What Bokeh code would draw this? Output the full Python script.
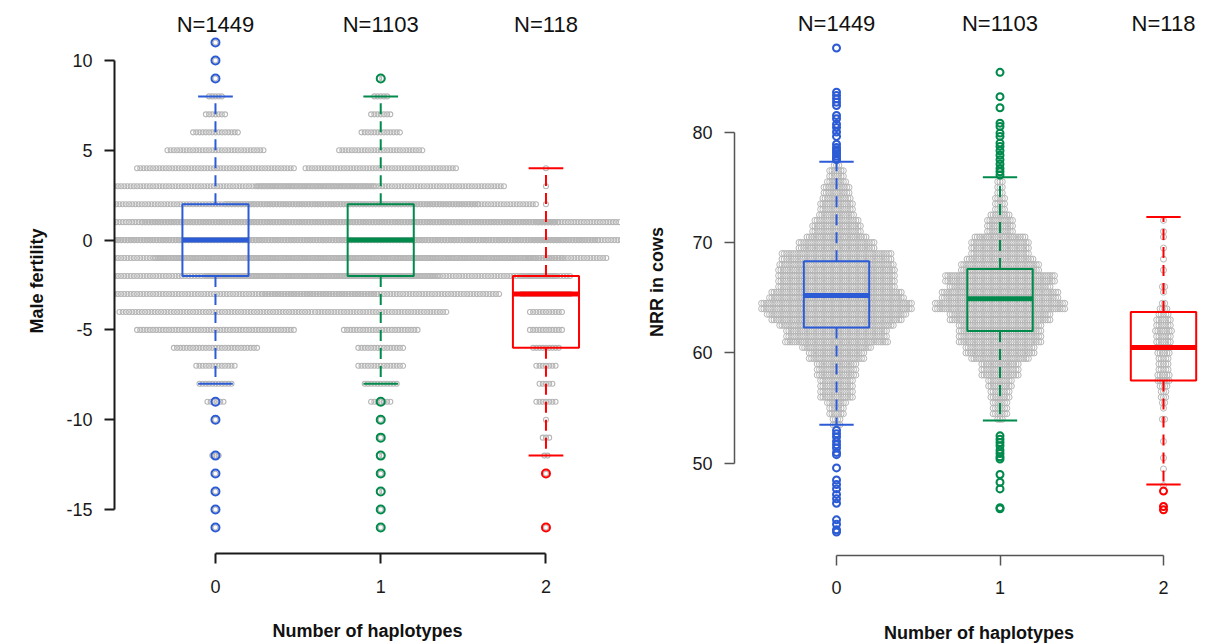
from bokeh.plotting import figure
from bokeh.layouts import row
from bokeh.models import Range1d, FixedTicker, CustomJSTickFormatter
from bokeh.embed import file_html
from bokeh.resources import INLINE
from bokeh.core.properties import value

FONT = "Liberation Sans"

# ---------------- data ----------------
haplotypes = [0, 1, 2]
n_labels = ["N=1449", "N=1103", "N=118"]
box_colors = ["#2c5bd6", "#008a4b", "#ff0000"]

# Left panel: male fertility score (integer) -> number of bulls per score
mf_levels = [11, 10, 9, 8, 7, 6, 5, 4, 3, 2, 1, 0, -1, -2, -3, -4, -5, -6, -7, -8,
             -9, -10, -11, -12, -13, -14, -15, -16]
mf_count_h0 = [1, 1, 1, 5, 7, 15, 31, 50, 100, 165, 215, 240, 200, 140, 102, 61, 50,
               27, 13, 11, 6, 1, 0, 3, 1, 1, 1, 1]
mf_count_h1 = [0, 0, 2, 5, 7, 13, 27, 48, 78, 98, 150, 225, 142, 110, 75, 42, 24,
               15, 15, 11, 7, 1, 1, 2, 1, 2, 1, 1]
mf_count_h2 = [0, 0, 0, 0, 0, 0, 0, 1, 1, 1, 6, 8, 11, 16, 16, 11, 11,
               9, 7, 5, 7, 1, 3, 2, 1, 0, 0, 1]
mf_lower = [-8, -8, -12]
mf_q1 = [-2, -2, -6]
mf_median = [0, 0, -3]
mf_q3 = [2, 2, -2]
mf_upper = [8, 8, 4]

# Right panel: NRR in cows, counts per 0.5 bin
nrr_bins = [77.0, 76.5, 76.0, 75.5, 75.0, 74.5, 74.0, 73.5, 73.0, 72.5, 72.0, 71.5,
            71.0, 70.5, 70.0, 69.5, 69.0, 68.5, 68.0, 67.5, 67.0, 66.5, 66.0, 65.5,
            65.0, 64.5, 64.0, 63.5, 63.0, 62.5, 62.0, 61.5, 61.0, 60.5, 60.0, 59.5,
            59.0, 58.5, 58.0, 57.5, 57.0, 56.5, 56.0, 55.5, 55.0, 54.5, 54.0, 53.5,
            53.0, 52.5, 52.0, 51.5, 51.0, 50.5, 50.0, 49.5, 49.0, 48.5, 48.0]
nrr_count_h0 = [3, 7, 7, 9, 12, 12, 13, 15, 15, 16, 20, 22,
                22, 27, 34, 34, 49, 49, 51, 52, 52, 52, 52, 58,
                60, 67, 67, 62, 58, 51, 45, 45, 46, 31, 25, 25,
                18, 18, 18, 15, 15, 15, 15, 9, 7, 7, 4, 4,
                0, 0, 0, 0, 0, 0, 0, 0, 0, 0, 0]
nrr_count_h1 = [0, 0, 0, 3, 3, 3, 5, 5, 5, 9, 12, 12,
                12, 23, 26, 26, 26, 30, 35, 35, 49, 49, 45, 52,
                52, 58, 58, 45, 45, 37, 37, 37, 37, 31, 31, 26,
                17, 17, 17, 11, 11, 9, 9, 7, 7, 7, 3, 0,
                0, 0, 0, 0, 0, 0, 0, 0, 0, 0, 0]
nrr_count_h2 = [0, 0, 0, 0, 0, 0, 0, 0, 0, 0, 1, 0,
                1, 1, 0, 1, 0, 1, 0, 1, 0, 0, 2, 1,
                0, 2, 4, 5, 7, 7, 8, 7, 7, 7, 6, 5,
                5, 5, 6, 6, 4, 3, 3, 2, 1, 0, 2, 0,
                0, 0, 1, 0, 0, 1, 0, 1, 0, 0, 1]
nrr_outliers_h0 = [87.6, 83.6, 83.3, 83.0, 82.7, 82.4, 81.5, 81.2, 80.7, 80.4, 80.0,
                   79.6, 78.9, 78.6, 78.4, 78.2, 78.0, 77.8, 77.6, 77.5,
                   53.0, 52.7, 52.4, 52.0, 51.7, 51.4, 51.0, 50.8, 49.6, 48.5, 48.1,
                   47.7, 47.2, 46.8, 46.4, 44.9, 44.5, 44.0, 43.8]
nrr_outliers_h1 = [85.4, 83.2, 82.2, 80.8, 80.5, 79.9, 79.6, 79.0, 78.7, 78.3, 77.9,
                   77.5, 77.1, 76.7, 76.4, 76.1,
                   52.5, 52.2, 51.9, 51.6, 51.2, 50.9, 50.6, 50.4, 49.0, 48.3, 47.7,
                   46.0, 45.9]
nrr_outliers_h2 = [47.5, 46.1, 45.8]
nrr_lower = [53.5, 53.9, 48.1]
nrr_q1 = [62.3, 62.0, 57.5]
nrr_median = [65.2, 64.9, 60.5]
nrr_q3 = [68.3, 67.6, 63.7]
nrr_upper = [77.3, 75.9, 72.3]

# ---------------- layout constants ----------------
L_PX_PER_X = 165.25
R_PX_PER_X = 163.5
L_STEP = 3.2 / L_PX_PER_X
R_STEP = 2.27 / R_PX_PER_X
BOX_HALF = 0.2
CAP_HALF = 0.105
GRAY = "#b6b6b6"


def centred(c, step):
    return [(k - (c - 1) / 2.0) * step for k in range(c)]


def swarm_rows(levels, counts, centre, step):
    xs, ys = [], []
    for lv, c in zip(levels, counts):
        for off in centred(c, step):
            xs.append(centre + off)
            ys.append(lv)
    return xs, ys


def new_fig(xr, yr, fw, fh, bl, bb):
    p = figure(x_range=Range1d(*xr), y_range=Range1d(*yr),
               frame_width=fw, frame_height=fh,
               min_border_left=bl, min_border_right=0, min_border_top=8,
               min_border_bottom=bb, output_backend="svg",
               toolbar_location=None, title=None)
    p.xgrid.visible = False
    p.ygrid.visible = False
    p.outline_line_color = None
    p.background_fill_color = "white"
    p.border_fill_color = "white"
    return p


def style_axes(p, yticks, ybounds, ylabel, color, lw, ylab_standoff, xlbl_so, xttl_so):
    fmt = CustomJSTickFormatter(code="return String(tick);")
    p.xaxis.bounds = (0, 2)
    p.xaxis.ticker = FixedTicker(ticks=haplotypes)
    p.yaxis.bounds = ybounds
    p.yaxis.ticker = FixedTicker(ticks=yticks)
    p.xaxis.formatter = fmt
    p.yaxis.formatter = fmt
    for ax in (p.xaxis[0], p.yaxis[0]):
        ax.axis_line_color = color
        ax.axis_line_width = lw
        ax.major_tick_line_color = color
        ax.major_tick_line_width = lw
        ax.major_tick_out = 10
        ax.major_tick_in = 0
        ax.minor_tick_line_color = None
        ax.major_label_text_font = FONT
        ax.major_label_text_font_size = "18px"
        ax.major_label_text_color = "#1a1a1a"
        ax.axis_label_text_font = FONT
        ax.axis_label_text_font_size = "18px"
        ax.axis_label_text_font_style = "bold"
        ax.axis_label_text_color = "#111111"
    p.xaxis.axis_label = "Number of haplotypes"
    p.xaxis.major_label_standoff = xlbl_so
    p.xaxis.axis_label_standoff = xttl_so
    p.yaxis.axis_label = ylabel
    p.yaxis.major_label_standoff = 12
    p.yaxis.axis_label_standoff = ylab_standoff


def draw_boxes(p, lower, q1, med, q3, upper):
    for g, col, lo, a, m, b, hi in zip(haplotypes, box_colors, lower, q1, med, q3, upper):
        p.segment(x0=[g, g], y0=[b, a], x1=[g, g], y1=[hi, lo],
                  line_color=col, line_width=2, line_dash="11 7")
        p.segment(x0=[g - CAP_HALF, g - CAP_HALF], y0=[hi, lo],
                  x1=[g + CAP_HALF, g + CAP_HALF], y1=[hi, lo],
                  line_color=col, line_width=2)
        p.quad(left=[g - BOX_HALF], right=[g + BOX_HALF], bottom=[a], top=[b],
               fill_color=None, line_color=col, line_width=2)
        p.segment(x0=[g - BOX_HALF], y0=[m], x1=[g + BOX_HALF], y1=[m],
                  line_color=col, line_width=5)


# ---------------- left panel ----------------
# frame: page x 114..620, page y 8..553
p1 = new_fig((-0.611, 2.451), (-17.45, 12.895), 506, 545, 114, 91)
for g, counts in zip(haplotypes, [mf_count_h0, mf_count_h1, mf_count_h2]):
    xs, ys = swarm_rows(mf_levels, counts, g, L_STEP)
    p1.scatter(xs, ys, marker="circle", size=5, fill_color=None,
               line_color=GRAY, line_width=1.1)
draw_boxes(p1, mf_lower, mf_q1, mf_median, mf_q3, mf_upper)
for g, col, counts, lo, hi in zip(haplotypes, box_colors,
                                  [mf_count_h0, mf_count_h1, mf_count_h2],
                                  mf_lower, mf_upper):
    oy = [lv for lv, c in zip(mf_levels, counts) if c > 0 and (lv > hi or lv < lo)]
    p1.scatter([g] * len(oy), oy, marker="circle", size=8, fill_color=None,
               line_color=col, line_width=2)
p1.text(x=haplotypes, y=[11.98] * 3, text=n_labels, text_align="center",
        text_baseline="middle", text_font=value(FONT),
        text_font_size=value("22px"), text_color="#111111")
style_axes(p1, [-15, -10, -5, 0, 5, 10], (-15, 10), "Male fertility", "#1a1a1a", 2, 16, 16, 25)

# ---------------- right panel ----------------
# frame: page x 734..1223, page y 8..555
p2 = new_fig((-0.624, 2.367), (41.67, 91.18), 489, 547, 114, 89)
for g, counts, outs in zip(haplotypes,
                           [nrr_count_h0, nrr_count_h1, nrr_count_h2],
                           [nrr_outliers_h0, nrr_outliers_h1, nrr_outliers_h2]):
    xs, ys = swarm_rows(nrr_bins, counts, g, R_STEP)
    xs = xs + [g] * len(outs)
    ys = ys + outs
    p2.scatter(xs, ys, marker="circle", size=6, fill_color=None,
               line_color=GRAY, line_width=1)
draw_boxes(p2, nrr_lower, nrr_q1, nrr_median, nrr_q3, nrr_upper)
for g, col, outs in zip(haplotypes, box_colors,
                        [nrr_outliers_h0, nrr_outliers_h1, nrr_outliers_h2]):
    p2.scatter([g] * len(outs), outs, marker="circle", size=7, fill_color=None,
               line_color=col, line_width=2)
p2.text(x=haplotypes, y=[89.8] * 3, text=n_labels, text_align="center",
        text_baseline="middle", text_font=value(FONT),
        text_font_size=value("22px"), text_color="#111111")
style_axes(p2, [50, 60, 70, 80], (50, 80), "NRR in cows", "#555555", 1.5, 22, 15, 26)

layout = row(p1, p2)
open("out.html", "w").write(file_html(layout, INLINE))
